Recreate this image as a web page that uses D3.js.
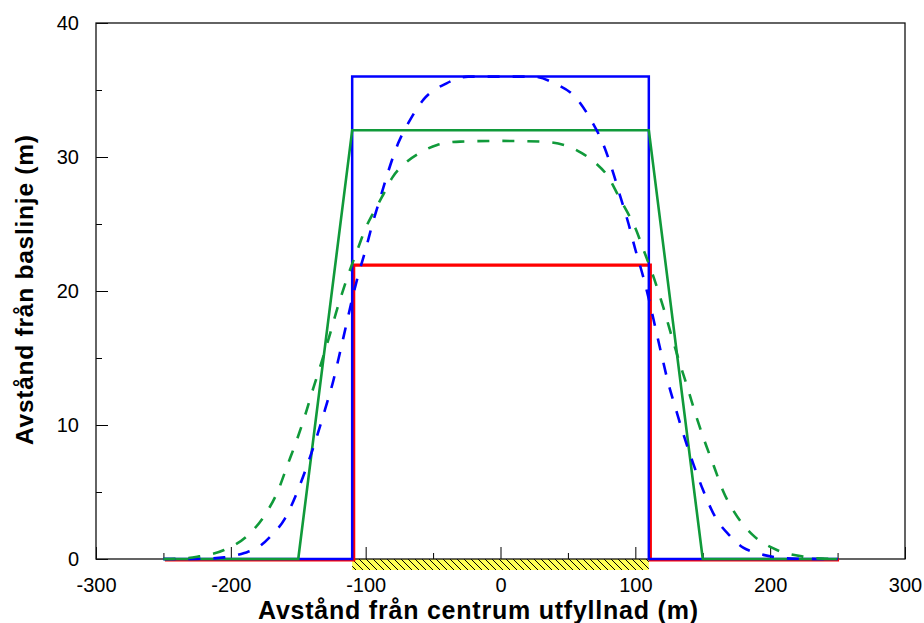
<!DOCTYPE html>
<html>
<head>
<meta charset="utf-8">
<script src="https://cdn.jsdelivr.net/npm/d3@7"></script>
<style>
  html, body { margin: 0; padding: 0; background: #fff; }
  svg { display: block; }
  text { font-family: "Liberation Sans", Arial, sans-serif; }
</style>
</head>
<body>
<svg id="chart" width="924" height="623"></svg>
<script>
// Profile of the fill: distance from baseline along the cross-section
const xDomain = [-300, 300];
const yDomain = [0, 40];
const xMajorTicks = [-300, -200, -100, 0, 100, 200, 300];
const xMinorTicks = [-250, -150, -50, 50, 150, 250];
const yMajorTicks = [0, 10, 20, 30, 40];
const yMinorTicks = [5, 15, 25, 35];

const xTitle = "Avstånd från centrum utfyllnad (m)";
const yTitle = "Avstånd från baslinje (m)";

// Fill footprint along the baseline
const fillExtent = [-110, 110];

// Design profiles (solid)
const redX = [-250, -110, -110, 110, 110, 250];
const redY = [0, 0, 22, 22, 0, 0];
const blueX = [-250, -110, -110, 110, 110, 250];
const blueY = [0, 0, 36, 36, 0, 0];
const greenX = [-250, -150, -110, 110, 150, 250];
const greenY = [0, 0, 32, 32, 0, 0];

// Calculated profiles (dashed)
const blueDashX = [-250, -220, -205, -190, -180, -170, -160, -150, -143, -136, -130, -124, -120, -115, -110, -106, -100, -95, -89, -83, -76, -68, -57, -40, -24, 0,
                   24, 40, 57, 68, 76, 83, 89, 95, 100, 106, 110, 115, 120, 124, 130, 136, 143, 150, 160, 170, 180, 190, 205, 220, 250];
const blueDashY = [0, 0.02, 0.12, 0.45, 0.85, 1.75, 3.0, 5.2, 7.1, 9.2, 11.2, 13.3, 15.0, 17.2, 19.4, 21.0, 23.1, 25.0, 27.0, 29.0, 31.0, 32.6, 34.3, 35.5, 36.0, 36.0,
                   36.0, 35.5, 34.3, 32.6, 31.0, 29.0, 27.0, 25.0, 23.1, 21.0, 19.4, 17.2, 15.0, 13.3, 11.2, 9.2, 7.1, 5.2, 3.0, 1.75, 0.85, 0.45, 0.12, 0.02, 0];
const greenDashX = [-250, -235, -225, -205, -187, -174, -165, -158, -151, -145, -139, -133, -127, -121, -114, -106, -100, -94, -88, -80, -70, -60, -47, -30, 0,
                    30, 47, 60, 70, 80, 88, 94, 100, 106, 114, 121, 127, 133, 139, 145, 151, 158, 165, 174, 187, 205, 225, 235, 250];
const greenDashY = [0, 0.05, 0.17, 0.67, 1.8, 3.4, 5.1, 7.0, 8.9, 10.7, 12.7, 14.6, 16.6, 18.7, 20.9, 23.1, 24.7, 25.9, 27.0, 28.5, 29.6, 30.3, 30.9, 31.15, 31.2,
                    31.15, 30.9, 30.3, 29.6, 28.5, 27.0, 25.9, 24.7, 23.1, 20.9, 18.7, 16.6, 14.6, 12.7, 10.7, 8.9, 7.0, 5.1, 3.4, 1.8, 0.67, 0.17, 0.05, 0];

const zip = (xs, ys) => xs.map((x, i) => [x, ys[i]]);
// plain hyphen-minus for negative tick labels
const fmt = d => String(d);

const svg = d3.select("#chart");
const margin = { left: 96, top: 23, right: 19, bottom: 64 };
const width = 924 - margin.left - margin.right;
const height = 623 - margin.top - margin.bottom;

const x = d3.scaleLinear().domain(xDomain).range([0, width]);
const y = d3.scaleLinear().domain(yDomain).range([height, 0]);

const g = svg.append("g").attr("transform", `translate(${margin.left},${margin.top})`);

// Hatch pattern for the fill footprint
const defs = svg.append("defs");
const pat = defs.append("pattern")
  .attr("id", "hatch")
  .attr("patternUnits", "userSpaceOnUse")
  .attr("width", 7).attr("height", 7);
pat.append("rect").attr("width", 7).attr("height", 7).attr("fill", "#ffff55");
pat.append("path")
  .attr("d", "M0,0L7,7M-1,6L1,8M6,-1L8,1")
  .attr("stroke", "#000").attr("stroke-width", 1);

g.append("rect")
  .attr("x", x(fillExtent[0]))
  .attr("y", y(0))
  .attr("width", x(fillExtent[1]) - x(fillExtent[0]))
  .attr("height", 11)
  .attr("fill", "url(#hatch)");

// Axes: major and minor ticks pointing into the plot
const tickFont = g => g.selectAll("text")
  .attr("font-size", 20)
  .attr("fill", "#000")
  .style("font-family", "'Liberation Sans', Arial, sans-serif");

g.append("g")
  .attr("transform", `translate(0,${height})`)
  .call(d3.axisBottom(x).tickValues(xMajorTicks).tickSize(-12).tickSizeOuter(0).tickPadding(19).tickFormat(fmt))
  .call(a => a.select(".domain").remove())
  .call(tickFont);
g.append("g")
  .attr("transform", `translate(0,${height})`)
  .call(d3.axisBottom(x).tickValues(xMinorTicks).tickSize(-6).tickFormat(""))
  .call(a => a.select(".domain").remove());

g.append("g")
  .call(d3.axisLeft(y).tickValues(yMajorTicks).tickSize(-12).tickSizeOuter(0).tickPadding(17).tickFormat(fmt))
  .call(a => a.select(".domain").remove())
  .call(tickFont);
g.append("g")
  .call(d3.axisLeft(y).tickValues(yMinorTicks).tickSize(-6).tickFormat(""))
  .call(a => a.select(".domain").remove());

g.selectAll(".tick line").attr("stroke", "#000").attr("stroke-width", 1);

// Plot frame
g.append("rect")
  .attr("x", 0).attr("y", 0)
  .attr("width", width).attr("height", height)
  .attr("fill", "none")
  .attr("stroke", "#111")
  .attr("stroke-width", 1.3);

const line = d3.line().x(d => x(d[0])).y(d => y(d[1]));
const curve = d3.line().x(d => x(d[0])).y(d => y(d[1])).curve(d3.curveMonotoneX);

// Solid profiles
g.append("path")
  .datum(zip(redX, redY))
  .attr("d", line)
  .attr("transform", "translate(1.5,1)")
  .attr("fill", "none").attr("stroke", "#ff0000").attr("stroke-width", 3.2);

g.append("path")
  .datum(zip(blueX, blueY))
  .attr("d", line)
  .attr("fill", "none").attr("stroke", "#0000ff").attr("stroke-width", 2.5);

g.append("path")
  .datum(zip(greenX, greenY))
  .attr("d", line)
  .attr("fill", "none").attr("stroke", "#109a3a").attr("stroke-width", 2.6);

// Dashed profiles
g.append("path")
  .datum(zip(blueDashX, blueDashY))
  .attr("d", curve)
  .attr("fill", "none").attr("stroke", "#0000ff").attr("stroke-width", 2.6)
  .attr("stroke-dasharray", "12,13");

g.append("path")
  .datum(zip(greenDashX, greenDashY))
  .attr("d", curve)
  .attr("fill", "none").attr("stroke", "#109a3a").attr("stroke-width", 2.6)
  .attr("stroke-dasharray", "12,13");

// Axis titles
svg.append("text")
  .attr("x", 258).attr("y", 619)
  .attr("font-size", 25).attr("font-weight", "bold")
  .attr("textLength", 440).attr("lengthAdjust", "spacing")
  .text(xTitle);

svg.append("text")
  .attr("transform", "translate(33,445) rotate(-90)")
  .attr("font-size", 24.5).attr("font-weight", "bold")
  .attr("textLength", 310).attr("lengthAdjust", "spacing")
  .text(yTitle);
</script>
</body>
</html>
